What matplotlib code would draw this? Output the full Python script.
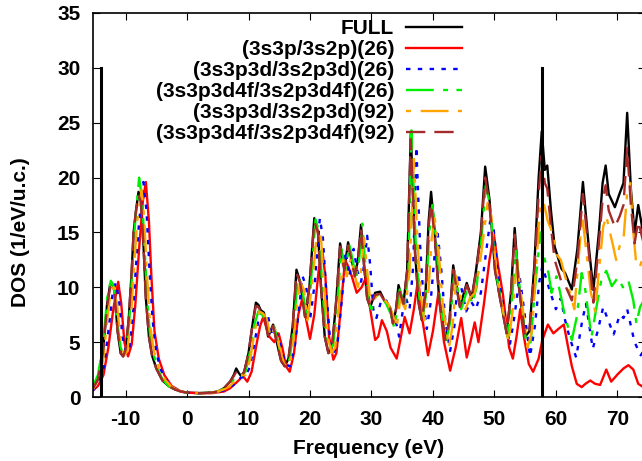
import matplotlib.pyplot as plt

plt.rcParams['font.family'] = ['Liberation Sans', 'DejaVu Sans']
plt.rcParams['font.weight'] = 'bold'
plt.rcParams['lines.scale_dashes'] = False
plt.rcParams['axes.unicode_minus'] = False
plt.rcParams['lines.solid_joinstyle'] = 'round'
plt.rcParams['lines.dash_joinstyle'] = 'round'

# ---------------- datos ----------------
full_x = [-15.3, -14.5, -13.7, -13.0, -12.5, -12.2, -11.8, -11.3, -10.8, -10.4, -10.0, -9.5, -9.0,
          -8.7, -8.3, -7.9, -7.5, -7.1, -6.7, -6.2, -5.7, -5.0, -4.0, -3.0, -2.0, -1.0, 0.0, 2.0,
          4.0, 5.0, 6.0, 7.0, 7.6, 8.0, 8.4, 8.8, 9.3, 10.0, 10.7, 11.2, 11.6, 12.0, 12.5, 13.2,
          14.0, 14.6, 15.3, 15.9, 16.5, 17.2, 17.8, 18.4, 19.2, 19.9, 20.7, 21.3, 21.8, 22.4, 23.0,
          23.6, 24.3, 24.9, 25.6, 26.2, 26.8, 27.3, 27.8, 28.3, 28.8, 29.3, 29.8, 30.6, 31.4, 32.2,
          33.0, 33.5, 34.0, 34.4, 35.2, 35.8, 36.4, 37.1, 37.7, 38.2, 38.8, 39.3, 39.7, 40.3, 41.0,
          42.0, 42.7, 43.3, 44.4, 45.5, 46.3, 47.0, 47.8, 48.5, 49.2, 50.1, 50.9, 52.0, 52.7, 53.3,
          54.0, 55.0, 55.7, 56.5, 57.2, 57.7, 58.2, 58.6, 59.2, 59.8, 60.9, 61.5, 62.6, 63.5, 64.4,
          65.3, 66.1, 67.0, 67.6, 68.1, 68.6, 69.6, 70.4, 71.0, 71.6, 72.2, 72.8, 73.4, 74.5]
full_y = [0.8, 1.6, 4.0, 8.5, 10.3, 10.4, 9.6, 6.0, 4.0, 3.7, 4.3, 7.0, 11.5,
          15.0, 17.0, 18.7, 18.0, 14.0, 9.0, 5.5, 3.8, 2.6, 1.5, 1.0, 0.7, 0.5, 0.4, 0.35,
          0.4, 0.5, 0.8, 1.4, 2.0, 2.6, 2.2, 1.9, 2.3, 4.0, 6.8, 8.6, 8.4, 7.9, 7.7, 5.5,
          6.6, 5.0, 3.3, 2.8, 3.5, 6.5, 11.6, 10.5, 7.3, 10.0, 16.3, 15.0, 10.0, 5.5, 4.0,
          4.6, 9.0, 14.0, 11.6, 14.1, 12.5, 11.0, 12.5, 15.7, 12.0, 9.0, 8.2, 9.5, 9.6, 8.7,
          8.2, 6.7, 8.0, 10.2, 8.5, 11.5, 24.0, 13.1, 8.5, 7.0, 9.5, 16.0, 18.7, 15.0, 9.0,
          5.2, 7.0, 12.0, 8.2, 10.4, 9.0, 11.5, 15.0, 21.0, 18.0, 11.6, 9.1, 5.8, 9.5, 15.4,
          10.0, 5.5, 6.0, 12.0, 20.0, 24.2, 20.7, 21.1, 17.0, 13.7, 11.7, 11.3, 9.8, 13.5, 19.6,
          14.0, 9.75, 15.0, 19.5, 21.1, 18.5, 17.3, 18.6, 19.5, 25.9, 19.0, 14.9, 17.5, 14.0]

red_x = [-15.3, -14.5, -13.6, -12.8, -12.0, -11.2, -10.7, -10.2, -9.6, -9.0, -8.4, -7.8, -7.2,
         -6.7, -6.2, -5.8, -5.3, -4.6, -3.7, -2.5, -1.0, 0.0, 2.0, 4.0, 6.0, 7.0, 8.0, 9.1, 9.8,
         10.5, 11.3, 11.9, 12.4, 12.8, 13.4, 14.2, 14.9, 15.5, 16.1, 16.7, 17.4, 18.1, 18.8, 19.4,
         20.0, 20.7, 21.4, 22.0, 22.5, 23.1, 23.8, 24.3, 25.0, 25.7, 26.3, 26.8, 27.6, 28.4, 29.2,
         29.8, 30.6, 31.1, 31.7, 32.5, 33.1, 34.1, 34.8, 35.4, 36.2, 36.9, 37.6, 38.3, 39.2, 40.0,
         40.9, 41.8, 42.8, 43.7, 44.6, 45.5, 46.1, 46.8, 47.4, 48.3, 49.2, 49.9, 50.6, 51.4, 52.4,
         53.0, 53.6, 54.2, 54.8, 55.6, 56.3, 57.2, 57.8, 58.7, 59.6, 60.4, 61.3, 62.0, 62.6, 63.4,
         64.2, 64.8, 65.6, 66.4, 67.2, 68.2, 69.0, 70.1, 71.0, 71.8, 72.6, 73.4, 74.5]
red_y = [0.6, 1.0, 2.0, 4.5, 8.0, 10.5, 8.5, 5.0, 3.7, 4.8, 8.5, 13.5, 17.8,
         19.6, 16.0, 11.0, 6.0, 3.5, 2.0, 1.0, 0.5, 0.4, 0.35, 0.35, 0.5, 0.8, 1.3, 1.9, 1.4,
         2.3, 4.8, 6.5, 7.3, 6.5, 5.5, 5.0, 5.8, 4.5, 2.8, 2.3, 4.0, 7.5, 9.1, 7.0,
         5.3, 7.5, 11.5, 13.4, 11.0, 5.5, 3.4, 4.0, 8.0, 12.5, 11.8, 11.0, 9.5, 10.0, 11.0,
         8.0, 5.2, 5.5, 7.0, 6.0, 4.5, 3.5, 5.5, 7.3, 5.8, 8.0, 10.8, 7.0, 3.8, 6.0,
         9.5, 5.0, 2.4, 4.5, 7.2, 3.6, 5.0, 6.8, 5.0, 8.5, 12.5, 14.9, 12.0, 9.3, 4.5,
         3.5, 5.5, 8.0, 5.5, 3.0, 2.3, 3.5, 5.2, 6.6, 5.8, 6.2, 6.6, 4.5, 2.8, 1.2,
         0.9, 1.2, 1.5, 1.2, 1.1, 2.5, 1.4, 2.1, 2.6, 2.9, 2.5, 1.2, 0.8]

blue_x = [-15.3, -14.5, -13.5, -12.8, -12.1, -11.6, -11.1, -10.5, -9.9, -9.4, -8.8, -8.3, -7.8,
          -7.1, -6.6, -6.1, -5.6, -5.0, -4.2, -3.2, -2.0, -1.0, 0.0, 2.0, 4.0, 5.0, 6.0, 7.0, 8.0,
          8.8, 9.4, 10.2, 11.0, 11.8, 12.6, 13.2, 13.9, 14.6, 15.3, 16.0, 16.7, 17.5, 18.2, 18.8,
          19.4, 20.0, 20.8, 21.6, 22.1, 22.6, 23.3, 23.9, 24.5, 25.2, 25.8, 26.4, 27.1, 27.7, 28.3,
          28.8, 29.3, 29.8, 30.3, 30.8, 31.6, 32.4, 33.2, 34.0, 34.5, 35.0, 35.5, 36.2, 36.8, 37.3,
          37.9, 38.5, 39.0, 39.6, 40.2, 40.7, 41.3, 42.0, 42.8, 43.5, 44.1, 44.8, 45.4, 46.2, 47.0,
          47.8, 48.6, 49.3, 49.9, 50.6, 51.4, 52.5, 53.3, 54.1, 54.7, 55.8, 56.6, 57.3, 57.8, 58.3,
          59.0, 60.0, 60.8, 61.5, 62.2, 63.3, 64.3, 64.9, 66.0, 66.8, 67.7, 68.5, 69.4, 70.4, 71.0,
          71.6, 72.2, 72.8, 73.8, 74.5]
blue_y = [0.6, 1.2, 2.8, 6.0, 9.5, 10.4, 9.0, 5.5, 4.0, 4.4, 7.5, 12.0, 16.0,
          19.6, 17.0, 11.5, 7.0, 4.0, 2.4, 1.4, 0.8, 0.5, 0.4, 0.35, 0.4, 0.45, 0.6, 0.9, 1.3,
          1.8, 1.8, 2.7, 5.0, 7.6, 7.7, 7.3, 5.5, 5.8, 4.5, 3.0, 2.8, 4.5, 8.0, 11.0,
          10.0, 7.0, 10.5, 16.3, 14.5, 10.0, 5.0, 4.0, 5.0, 9.0, 13.3, 11.0, 13.5, 11.5, 10.5,
          12.0, 14.7, 12.0, 8.0, 7.2, 8.8, 8.8, 7.8, 6.8, 5.5, 7.5, 9.2, 8.0, 12.0, 22.8,
          14.0, 8.5, 6.2, 8.5, 12.5, 15.3, 12.0, 7.0, 4.2, 6.5, 11.3, 9.5, 7.8, 8.7, 8.0,
          9.5, 13.0, 16.0, 15.2, 11.0, 8.5, 4.7, 7.5, 11.0, 8.5, 3.7, 6.5, 10.5, 11.9, 11.0,
          9.7, 8.0, 9.0, 7.0, 5.5, 3.6, 7.0, 8.5, 4.4, 6.0, 8.2, 7.0, 5.7, 7.5, 7.2,
          8.0, 6.5, 5.0, 3.8, 4.4]

green_x = [-15.3, -14.5, -13.7, -13.0, -12.4, -11.9, -11.4, -10.8, -10.3, -9.9, -9.4, -8.9, -8.5,
           -7.8, -7.3, -6.9, -6.5, -6.0, -5.4, -4.8, -4.0, -3.0, -2.0, -1.0, 0.0, 2.0, 4.0, 5.0,
           6.0, 7.0, 8.0, 8.8, 9.5, 10.2, 10.9, 11.6, 12.2, 12.8, 13.4, 14.2, 14.8, 15.5, 16.1,
           16.7, 17.4, 18.0, 18.6, 19.4, 20.1, 20.9, 21.5, 22.0, 22.6, 23.2, 23.8, 24.5, 25.1, 25.8,
           26.4, 27.0, 27.5, 28.0, 28.5, 29.0, 29.5, 30.0, 30.8, 31.6, 32.4, 33.2, 33.7, 34.2, 34.6,
           35.4, 36.0, 36.5, 37.2, 37.8, 38.3, 38.9, 39.4, 39.9, 40.5, 41.2, 42.1, 42.8, 43.5, 44.6,
           45.6, 46.4, 47.1, 47.9, 48.6, 49.3, 50.2, 51.0, 52.1, 52.8, 53.5, 54.2, 55.2, 55.9, 56.7,
           57.5, 58.2, 58.8, 59.3, 60.1, 60.7, 61.5, 62.6, 63.4, 64.2, 64.7, 65.8, 66.6, 67.4, 68.2,
           69.1, 70.1, 70.9, 71.8, 72.6, 73.1, 73.7, 74.5]
green_y = [1.0, 2.0, 4.6, 9.0, 10.6, 10.0, 7.0, 4.5, 3.8, 4.3, 7.0, 11.5, 15.5,
           20.0, 18.0, 13.5, 9.0, 5.5, 3.8, 2.6, 1.6, 1.0, 0.7, 0.5, 0.4, 0.35, 0.4, 0.5,
           0.75, 1.2, 1.9, 1.9, 2.3, 4.0, 6.5, 7.8, 7.5, 7.0, 5.7, 6.4, 5.0, 3.3, 2.8,
           3.5, 6.5, 11.0, 10.3, 7.5, 10.0, 16.2, 15.0, 10.0, 5.5, 4.3, 4.8, 9.0, 13.5, 11.5,
           13.9, 12.3, 10.8, 12.5, 15.8, 12.0, 8.7, 8.0, 9.3, 9.2, 8.5, 7.5, 6.3, 8.0, 9.8,
           8.3, 11.5, 24.3, 14.0, 9.0, 7.0, 9.5, 15.0, 17.5, 14.5, 8.5, 5.0, 6.8, 11.5, 8.0,
           9.8, 8.5, 10.0, 14.5, 19.3, 17.5, 11.5, 9.0, 5.5, 8.5, 13.5, 9.5, 4.8, 5.0, 10.5,
           15.0, 12.5, 11.3, 9.5, 11.0, 9.5, 7.3, 5.2, 7.3, 11.3, 10.1, 5.5, 8.2, 10.7, 11.5,
           10.1, 10.9, 10.0, 10.6, 8.8, 6.7, 8.2, 9.0]

orange_x = [-15.3, -14.5, -13.6, -13.0, -12.4, -11.9, -11.4, -10.8, -10.2, -9.7, -9.1, -8.6, -8.1,
            -7.4, -7.0, -6.5, -6.0, -5.4, -4.6, -3.6, -2.5, -1.0, 0.0, 2.0, 4.0, 5.0, 6.0, 7.0,
            8.0, 8.7, 9.5, 10.3, 11.0, 11.8, 12.4, 13.0, 13.6, 14.3, 15.0, 15.8, 16.4, 17.1, 17.8,
            18.4, 19.0, 19.6, 20.4, 21.2, 21.8, 22.3, 22.9, 23.5, 24.1, 24.8, 25.4, 26.0, 26.7, 27.3,
            27.8, 28.3, 28.8, 29.3, 29.8, 30.4, 31.1, 31.9, 32.7, 33.5, 34.1, 34.7, 35.5, 36.2, 36.9,
            37.5, 38.1, 38.6, 39.2, 39.8, 40.3, 40.9, 41.6, 42.6, 43.2, 43.8, 44.7, 45.3, 46.0, 46.8,
            47.6, 48.3, 48.9, 49.5, 50.3, 51.2, 52.3, 53.0, 53.7, 54.4, 55.4, 56.1, 56.8, 57.5, 58.1,
            58.7, 59.4, 60.1, 60.8, 61.5, 62.3, 63.0, 63.6, 64.3, 65.0, 65.7, 66.4, 67.0, 67.7, 68.2,
            68.8, 69.3, 69.8, 70.4, 71.0, 71.6, 72.1, 72.6, 73.1, 73.7, 74.5]
orange_y = [0.7, 1.4, 3.5, 7.0, 9.8, 10.0, 8.5, 5.0, 3.8, 4.2, 7.5, 12.0, 16.0,
            18.9, 16.5, 11.0, 6.5, 4.2, 2.7, 1.6, 0.9, 0.5, 0.4, 0.35, 0.4, 0.5, 0.7, 1.0,
            1.6, 2.0, 2.0, 3.5, 6.0, 7.8, 7.6, 7.0, 5.5, 6.2, 4.6, 3.0, 2.7, 4.0, 8.0,
            10.5, 9.8, 7.0, 10.5, 15.5, 14.5, 10.0, 5.5, 4.0, 4.5, 9.0, 12.5, 11.0, 12.8, 11.0,
            10.0, 11.5, 14.5, 11.5, 8.8, 8.8, 9.5, 9.0, 8.5, 7.5, 6.3, 9.0, 8.0, 11.5, 21.7,
            14.0, 9.0, 7.0, 9.0, 14.5, 16.3, 13.5, 8.5, 4.5, 6.5, 11.0, 8.5, 8.0, 9.0, 9.5,
            12.0, 15.0, 17.7, 16.5, 11.5, 8.5, 5.0, 8.0, 12.3, 9.0, 4.5, 6.0, 12.0, 17.8, 17.5,
            16.0, 15.0, 13.0, 12.5, 11.0, 9.5, 8.0, 12.0, 16.5, 13.0, 9.5, 7.8, 11.5, 15.5, 16.5,
            15.0, 13.8, 12.5, 13.8, 14.4, 18.6, 19.5, 15.0, 12.0, 11.9, 13.5]

# la curva marron usa las mismas abscisas que FULL
brown_y = [0.8, 1.6, 4.0, 8.3, 10.0, 10.1, 9.4, 6.0, 4.0, 3.7, 4.3, 7.0, 11.5,
           15.0, 17.0, 18.4, 17.8, 14.0, 9.0, 5.5, 3.8, 2.6, 1.5, 1.0, 0.7, 0.5, 0.4, 0.35,
           0.4, 0.5, 0.8, 1.4, 1.9, 2.3, 2.1, 1.9, 2.3, 4.0, 6.8, 8.3, 8.2, 7.8, 7.6, 5.5,
           6.5, 5.0, 3.3, 2.8, 3.5, 6.5, 11.3, 10.4, 7.3, 10.0, 16.0, 15.0, 10.0, 5.5, 4.0,
           4.6, 9.0, 13.7, 11.5, 13.8, 12.4, 11.0, 12.5, 15.3, 12.0, 9.0, 8.2, 9.3, 9.4, 8.7,
           8.2, 6.7, 8.0, 10.0, 8.5, 11.5, 23.5, 13.0, 8.5, 7.0, 9.5, 15.5, 17.6, 14.5, 9.0,
           5.2, 7.0, 11.6, 8.2, 10.2, 9.0, 11.3, 14.8, 20.0, 17.5, 11.5, 9.0, 5.8, 9.5, 14.8,
           10.0, 5.5, 6.0, 11.5, 18.5, 22.0, 19.5, 19.0, 15.5, 12.5, 10.5, 10.2, 8.8, 12.5, 18.5,
           13.5, 8.6, 14.0, 18.0, 19.3, 17.0, 15.5, 16.5, 17.5, 22.7, 17.5, 14.0, 16.0, 13.5]

labels = ['FULL', '(3s3p/3s2p)(26)', '(3s3p3d/3s2p3d)(26)', '(3s3p3d4f/3s2p3d4f)(26)',
          '(3s3p3d/3s2p3d)(92)', '(3s3p3d4f/3s2p3d4f)(92)']

# lineas verticales (limites)
vlines_x = [-14.0, 57.8]
vlines_top = 30

# ---------------- grafico ----------------
fig = plt.figure(figsize=(6.42, 4.61), dpi=100)
ax = fig.add_axes([93/642, 64/461, 552/642, 384/461])

lw = 1.7
ax.plot(full_x, full_y, color='black', lw=lw, label=labels[0])
ax.plot(red_x, red_y, color='#ff0000', lw=lw, label=labels[1])
ax.plot(blue_x, blue_y, color='#0000ff', lw=lw, dashes=(3.2, 5.3), label=labels[2])
ax.plot(green_x, green_y, color='#00ee00', lw=lw, dashes=(20, 6.7, 3.6, 6.0), label=labels[3])
ax.plot(orange_x, orange_y, color='#ffa500', lw=lw, dashes=(3.6, 7.0, 20, 6.7), label=labels[4])
ax.plot(full_x, brown_y, color='#a52a2a', lw=lw, dashes=(13.9, 6.5), label=labels[5])

for xv in vlines_x:
    ax.plot([xv, xv], [0, vlines_top], color='black', lw=2.2, zorder=5)

ax.set_xlim(-15.3, 74.5)
ax.set_ylim(0, 35)
ax.set_xticks(range(-10, 71, 10))
ax.set_yticks(range(0, 36, 5))
ax.tick_params(direction='in', length=5, width=0.8, top=True, right=True, labelsize=15, pad=9)
for s in ax.spines.values():
    s.set_linewidth(1.2)

fig.text(369/642, 1 - 448/461, 'Frequency (eV)', ha='center', va='center', fontsize=15, fontweight='bold')
fig.text(21/642, 1 - 232/461, 'DOS (1/eV/u.c.)', ha='center', va='center', rotation=90,
         fontsize=15, fontweight='bold')

leg = ax.legend(loc='upper right', bbox_to_anchor=(462/642, 1 - 19/461), bbox_transform=fig.transFigure,
                markerfirst=False, frameon=False, fontsize=15, handlelength=2.7, handletextpad=0.55,
                labelspacing=0.1, borderpad=0, borderaxespad=0)

fig.savefig('out.png', dpi=100)
